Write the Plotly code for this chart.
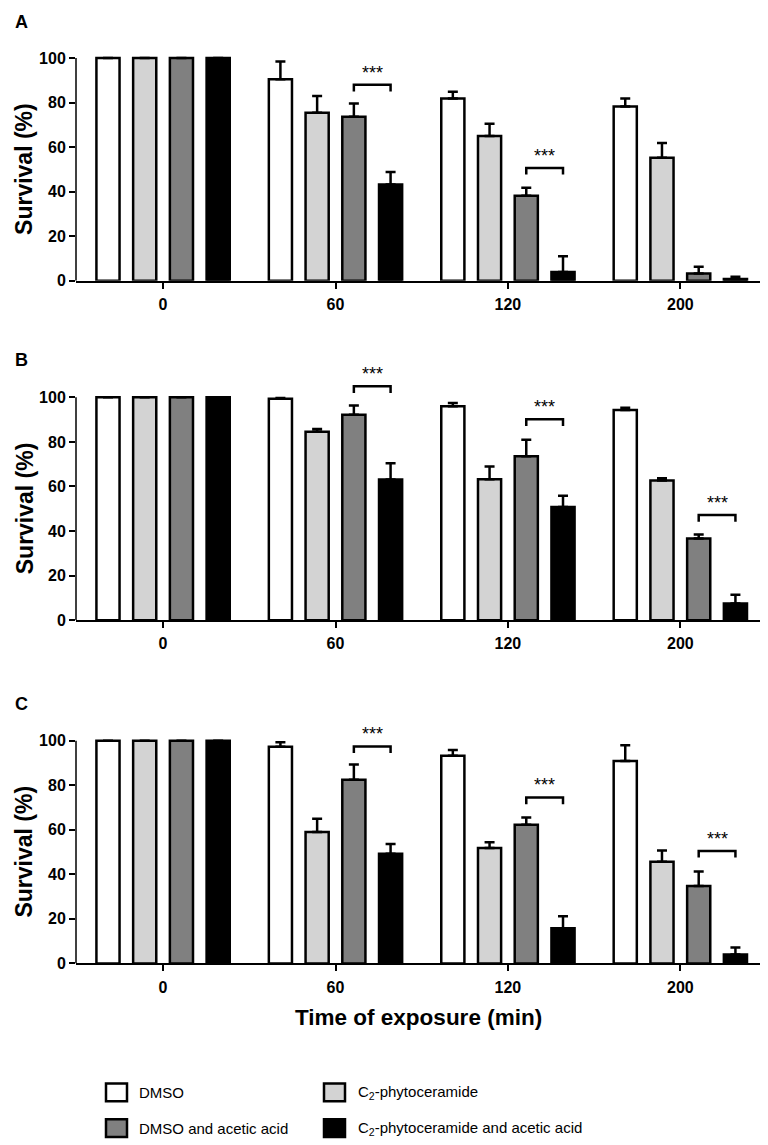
import plotly.graph_objects as go

# ---------------- data ----------------
categories = ["0", "60", "120", "200"]
series_names = ["DMSO", "C<sub>2</sub>-phytoceramide",
                "DMSO and acetic acid", "C<sub>2</sub>-phytoceramide and acetic acid"]
series_colors = ["#FFFFFF", "#D3D3D3", "#808080", "#000000"]
panel_labels = ["A", "B", "C"]

# Panel A
A_dmso = [100, 90.5, 81.9, 78.2]
A_c2 = [100, 75.5, 65.0, 55.2]
A_dmso_aa = [100, 73.6, 38.2, 3.3]
A_c2_aa = [100, 43.2, 4.0, 0.8]
A_dmso_err = [0, 8.0, 3.0, 3.6]
A_c2_err = [0, 7.5, 5.5, 6.7]
A_dmso_aa_err = [0, 6.0, 3.6, 3.0]
A_c2_aa_err = [0, 5.7, 7.0, 1.0]
A_sig_cats = [1, 2]
A_sig_heights = [88, 50.7]

# Panel B
B_dmso = [100, 99.4, 96.0, 94.3]
B_c2 = [100, 84.6, 63.3, 62.7]
B_dmso_aa = [100, 92.2, 73.6, 36.6]
B_c2_aa = [100, 63.1, 50.8, 7.5]
B_dmso_err = [0, 0.3, 1.5, 1.0]
B_c2_err = [0, 1.2, 5.7, 1.0]
B_dmso_aa_err = [0, 4.2, 7.4, 1.8]
B_c2_aa_err = [0, 7.3, 5.0, 3.9]
B_sig_cats = [1, 2, 3]
B_sig_heights = [105, 90.2, 47.2]

# Panel C
C_dmso = [100, 97.3, 93.2, 90.9]
C_c2 = [100, 59.0, 51.8, 45.6]
C_dmso_aa = [100, 82.5, 62.2, 34.7]
C_c2_aa = [100, 49.2, 15.8, 4.0]
C_dmso_err = [0, 2.0, 2.6, 7.0]
C_c2_err = [0, 5.9, 2.6, 5.1]
C_dmso_aa_err = [0, 6.8, 3.3, 6.6]
C_c2_aa_err = [0, 4.4, 5.4, 3.1]
C_sig_cats = [1, 2, 3]
C_sig_heights = [97.4, 74.5, 50.5]

y_ticks = [0, 20, 40, 60, 80, 100]

panels = [
    ([A_dmso, A_c2, A_dmso_aa, A_c2_aa],
     [A_dmso_err, A_c2_err, A_dmso_aa_err, A_c2_aa_err], A_sig_cats, A_sig_heights),
    ([B_dmso, B_c2, B_dmso_aa, B_c2_aa],
     [B_dmso_err, B_c2_err, B_dmso_aa_err, B_c2_aa_err], B_sig_cats, B_sig_heights),
    ([C_dmso, C_c2, C_dmso_aa, C_c2_aa],
     [C_dmso_err, C_c2_err, C_dmso_aa_err, C_c2_aa_err], C_sig_cats, C_sig_heights),
]

# ---------------- layout constants ----------------
W, H = 768, 1145
BARGAP = 0.148
BARGROUPGAP = 0.37
SLOT = (1 - BARGAP) / 4
y_domains = [(1 - 275 / H, 1 - 28 / H), (1 - 617 / H, 1 - 370 / H), (1 - 963 / H, 1 - 716 / H)]
x_domain = (68 / W, 762 / W)
panel_label_y = [14, 355, 702]
FONT = "Liberation Sans, Arial, sans-serif"

fig = go.Figure()
shapes = []
annotations = []
xpos = list(range(len(categories)))

for p, (means, errs, sig_cats, sig_h) in enumerate(panels):
    sfx = "" if p == 0 else str(p + 1)
    for s in range(4):
        fig.add_trace(go.Bar(
            x=xpos, y=means[s], name=series_names[s],
            xaxis="x" + sfx, yaxis="y" + sfx,
            marker=dict(color=series_colors[s], line=dict(color="black", width=2.5)),
            error_y=dict(type="data", symmetric=False, array=errs[s],
                         arrayminus=[0] * len(errs[s]),
                         color="black", thickness=2.5, width=5),
            showlegend=False,
        ))
    # significance brackets
    for c, h in zip(sig_cats, sig_h):
        x0 = c + 0.5 * SLOT
        x1 = c + 1.5 * SLOT
        shapes.append(dict(type="path", xref="x" + sfx, yref="y" + sfx,
                           path=f"M {x0},{h-3} L {x0},{h} L {x1},{h} L {x1},{h-3}",
                           line=dict(color="black", width=2.5)))
        annotations.append(dict(x=(x0 + x1) / 2, y=h, xref="x" + sfx, yref="y" + sfx,
                                text="***", showarrow=False, yanchor="bottom", yshift=0,
                                font=dict(family=FONT, size=18, color="black")))
    # y-axis title
    annotations.append(dict(x=16.5 / W, y=50, xref="paper", yref="y" + sfx,
                            text="<b>Survival (%)</b>", textangle=-90, showarrow=False,
                            xanchor="center", yanchor="middle",
                            font=dict(family=FONT, size=23, color="black")))
    # panel label
    annotations.append(dict(x=5 / W, y=1 - panel_label_y[p] / H, xref="paper", yref="paper",
                            text=f"<b>{panel_labels[p]}</b>", showarrow=False,
                            xanchor="left", yanchor="middle",
                            font=dict(family=FONT, size=18, color="black")))

    fig.update_layout(**{
        "xaxis" + sfx: dict(domain=x_domain, anchor="y" + sfx, range=[-0.505, 3.52],
                            tickvals=xpos, ticktext=categories, showline=True,
                            linecolor="black", linewidth=2, ticks="outside", ticklen=6,
                            tickwidth=1.5, tickcolor="black", showgrid=False, zeroline=False,
                            ticklabelstandoff=2,
                            tickfont=dict(family=FONT, size=16, color="black", weight="bold")),
        "yaxis" + sfx: dict(domain=y_domains[p], anchor="x" + sfx, range=[0, 110],
                            tickvals=y_ticks, showline=False, ticks="outside", ticklen=6,
                            tickwidth=1.5, tickcolor="black", showgrid=False, zeroline=False,
                            tickfont=dict(family=FONT, size=16, color="black", weight="bold")),
    })
    # y axis line limited to 0..100
    shapes.append(dict(type="line", xref="x" + sfx + " domain", yref="y" + sfx,
                       x0=0, x1=0, y0=0, y1=100, line=dict(color="black", width=1.5)))

# x-axis title
annotations.append(dict(x=410 / W, y=1 - 1017 / H, xref="paper", yref="paper",
                        text="<b>Time of exposure (min)</b>", showarrow=False,
                        xanchor="center", yanchor="middle",
                        font=dict(family=FONT, size=22.5, color="black")))

# legend (manual, 2 columns)
leg_sq_x = [98, 316]
leg_text_x = [129, 348]
leg_row_y = [1093, 1129]
for s in range(4):
    col = s % 2
    row = s // 2
    x0 = leg_sq_x[col]
    yc = leg_row_y[row]
    shapes.append(dict(type="rect", xref="paper", yref="paper",
                       x0=x0 / W, x1=(x0 + 21) / W,
                       y0=1 - (yc + 9) / H, y1=1 - (yc - 9) / H,
                       fillcolor=series_colors[s], line=dict(color="black", width=2.5)))
    annotations.append(dict(x=leg_text_x[col] / W, y=1 - yc / H, xref="paper", yref="paper",
                            text=series_names[s], showarrow=False,
                            xanchor="left", yanchor="middle",
                            font=dict(family=FONT, size=15, color="black")))

fig.update_layout(
    width=W, height=H,
    margin=dict(l=0, r=0, t=0, b=0),
    paper_bgcolor="white", plot_bgcolor="white",
    barmode="group", bargap=BARGAP, bargroupgap=BARGROUPGAP,
    shapes=shapes, annotations=annotations,
    font=dict(family=FONT, color="black"),
)

fig.write_html("out.html")
